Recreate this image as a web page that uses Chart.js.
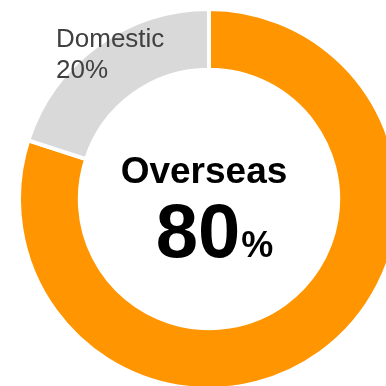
<!DOCTYPE html>
<html>
<head>
<meta charset="utf-8">
<script src="https://cdn.jsdelivr.net/npm/chart.js@4"></script>
<style>
    html, body { margin: 0; padding: 0; background: #fff; overflow: hidden; }
    body { width: 386px; height: 386px; position: relative; }
    #wrap { position: absolute; left: 17px; top: 6.5px; width: 384px; height: 384px; }
</style>
</head>
<body>
<div id="wrap"><canvas id="donutChart"></canvas></div>
<script>
// chart data
const labels = ['Overseas', 'Domestic'];
const values = [80, 20];
const colors = ['#FF9500', '#D9D9D9'];

const fontFamily = "Arial, 'Liberation Sans', Helvetica, sans-serif";

// draws the center text and the Domestic label
const textPlugin = {
    id: 'donutText',
    afterDraw: function (chart) {
        const ctx = chart.ctx;
        const arc = chart.getDatasetMeta(0).data[0];
        const cx = arc.x;
        const cy = arc.y;
        ctx.save();

        // center: name of the big share
        ctx.fillStyle = '#000';
        ctx.textBaseline = 'alphabetic';
        ctx.textAlign = 'center';
        ctx.font = 'bold 37px ' + fontFamily;
        ctx.fillText(labels[0], cx - 5, cy - 16);

        // center: big percent
        ctx.textAlign = 'left';
        ctx.font = 'bold 76px ' + fontFamily;
        const numText = String(values[0]);
        const w1 = ctx.measureText(numText).width;
        ctx.font = 'bold 36px ' + fontFamily;
        const w2 = ctx.measureText('%').width;
        const startX = cx + 5 - (w1 + w2) / 2;
        ctx.font = 'bold 76px ' + fontFamily;
        ctx.fillText(numText, startX, cy + 58);
        ctx.font = 'bold 36px ' + fontFamily;
        ctx.fillText('%', startX + w1 + 1, cy + 58);

        // small label on the grey slice
        ctx.fillStyle = '#404040';
        ctx.font = '26px ' + fontFamily;
        ctx.fillText(labels[1], cx - 153, cy - 152);
        ctx.fillText(values[1] + '%', cx - 153, cy - 121);

        ctx.restore();
    }
};

const ctx = document.getElementById('donutChart').getContext('2d');

const myChart = new Chart(ctx, {
    type: 'doughnut',
    data: {
        labels: labels,
        datasets: [{
            data: values,
            backgroundColor: colors,
            borderColor: '#ffffff',
            borderWidth: 4,
            hoverOffset: 0
        }]
    },
    options: {
        responsive: true,
        maintainAspectRatio: false,
        animation: false,
        cutout: '68%',
        plugins: {
            legend: { display: false },
            tooltip: { enabled: false }
        }
    },
    plugins: [textPlugin]
});
</script>
</body>
</html>
